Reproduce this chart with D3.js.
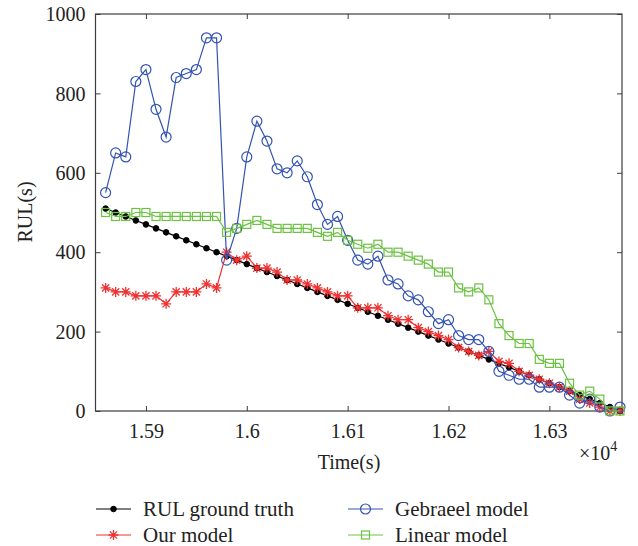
<!DOCTYPE html>
<html>
<head>
<meta charset="utf-8">
<script src="https://cdn.jsdelivr.net/npm/d3@7"></script>
<style>
  body { margin: 0; background: #fff; }
  text { font-family: "Liberation Serif", "Times New Roman", serif; fill: #222; }
</style>
</head>
<body>
<svg id="chart" width="638" height="546"></svg>
<script>
// Sample times (s)
const times = [
  15860, 15870, 15880, 15890, 15900, 15910, 15920, 15930, 15940, 15950,
  15960, 15970, 15980, 15990, 16000, 16010, 16020, 16030, 16040, 16050,
  16060, 16070, 16080, 16090, 16100, 16110, 16120, 16130, 16140, 16150,
  16160, 16170, 16180, 16190, 16200, 16210, 16220, 16230, 16240, 16250,
  16260, 16270, 16280, 16290, 16300, 16310, 16320, 16330, 16340, 16350,
  16360, 16370
];

// Remaining useful life (s) for each series
const groundTruth = [
  510, 500, 490, 480, 470, 460, 450, 440, 430, 420,
  410, 400, 390, 380, 370, 360, 350, 340, 330, 320,
  310, 300, 290, 280, 270, 260, 250, 240, 230, 220,
  210, 200, 190, 180, 170, 160, 150, 140, 130, 120,
  110, 100, 90, 80, 70, 60, 50, 40, 30, 20,
  10, 0
];
const ourModel = [
  310, 300, 300, 290, 290, 290, 270, 300, 300, 300,
  320, 310, 400, 380, 390, 360, 360, 350, 330, 330,
  320, 310, 300, 290, 290, 260, 260, 260, 240, 230,
  230, 210, 200, 190, 180, 160, 150, 140, 150, 125,
  120, 100, 90, 80, 70, 60, 50, 30, 20, 10,
  0, 0
];
const gebraeelModel = [
  550, 650, 640, 830, 860, 760, 690, 840, 850, 860,
  940, 940, 380, 460, 640, 730, 680, 610, 600, 630,
  590, 520, 470, 490, 430, 380, 370, 390, 330, 320,
  290, 280, 250, 220, 230, 190, 180, 180, 150, 100,
  90, 80, 80, 60, 60, 60, 40, 20, 30, 10,
  0, 10
];
const linearModel = [
  500, 490, 490, 500, 500, 490, 490, 490, 490, 490,
  490, 490, 450, 460, 470, 480, 470, 460, 460, 460,
  460, 450, 440, 450, 430, 420, 410, 420, 400, 400,
  390, 380, 370, 350, 350, 310, 300, 310, 280, 220,
  190, 170, 170, 130, 120, 120, 70, 40, 50, 30,
  0, 0
];

const seriesNames = ["RUL ground truth", "Our model", "Gebraeel model", "Linear model"];
const xTicks = [15900, 16000, 16100, 16200, 16300];
const xTickLabels = ["1.59", "1.6", "1.61", "1.62", "1.63"];
const yTicks = [0, 200, 400, 600, 800, 1000];

const svg = d3.select("#chart");
const plotLeft = 95.5, plotRight = 622, plotTop = 14, plotBottom = 411;
const axisColor = "#3c3c3c";
const serif = '"Liberation Serif", "Times New Roman", serif';

const x = d3.scaleLinear().domain([15850, 16372]).range([plotLeft, plotRight]);
const y = d3.scaleLinear().domain([0, 1000]).range([plotBottom, plotTop]);

// Axes with inward ticks
const fmtX = d => xTickLabels[xTicks.indexOf(d)];
const gx = svg.append("g").attr("transform", `translate(0,${plotBottom})`)
  .call(d3.axisBottom(x).tickValues(xTicks).tickFormat(fmtX).tickSizeInner(-5).tickSizeOuter(0));
gx.selectAll("text").attr("y", 27).attr("dy", null);
const gy = svg.append("g").attr("transform", `translate(${plotLeft},0)`)
  .call(d3.axisLeft(y).tickValues(yTicks).tickFormat(d3.format("d")).tickSizeInner(-5).tickSizeOuter(0));
gy.selectAll("text").attr("x", -10).attr("dy", "0.33em");
const gt = svg.append("g").attr("transform", `translate(0,${plotTop})`)
  .call(d3.axisTop(x).tickValues(xTicks).tickFormat("").tickSizeInner(-5).tickSizeOuter(0));
const gr = svg.append("g").attr("transform", `translate(${plotRight},0)`)
  .call(d3.axisRight(y).tickValues(yTicks).tickFormat("").tickSizeInner(-5).tickSizeOuter(0));
[gx, gy, gt, gr].forEach(g => {
  g.select(".domain").remove();
  g.selectAll("line").attr("stroke", axisColor);
  g.attr("font-family", serif).attr("font-size", 20);
  g.selectAll("text").style("font-family", serif).style("font-size", "20px").attr("fill", "#222");
});
svg.append("rect")
  .attr("x", plotLeft).attr("y", plotTop)
  .attr("width", plotRight - plotLeft).attr("height", plotBottom - plotTop)
  .attr("fill", "none").attr("stroke", axisColor).attr("stroke-width", 1.2);

// Axis titles
svg.append("text").attr("x", 349).attr("y", 469).attr("text-anchor", "middle")
  .style("font-size", "20px").text("Time(s)");
svg.append("text").attr("transform", "translate(32,212) rotate(-90)").attr("text-anchor", "middle")
  .style("font-size", "20px").text("RUL(s)");
const exp = svg.append("text").attr("x", 579).attr("y", 460).style("font-size", "20px");
exp.append("tspan").text("×10");
exp.append("tspan").attr("dy", -9).style("font-size", "14px").text("4");

// Marker drawers
const markers = {
  dot: (g, c) => g.append("circle").attr("r", 2.8).attr("fill", c).attr("stroke", c),
  star: (g, c) => g.append("path")
    .attr("d", "M-5,0H5M0,-5V5M-3.6,-3.6L3.6,3.6M-3.6,3.6L3.6,-3.6")
    .attr("fill", "none").attr("stroke", c).attr("stroke-width", 1.3),
  circle: (g, c) => g.append("circle").attr("r", 5).attr("fill", "none").attr("stroke", c).attr("stroke-width", 1.2),
  square: (g, c) => g.append("rect").attr("x", -4).attr("y", -4).attr("width", 8).attr("height", 8)
    .attr("fill", "none").attr("stroke", c).attr("stroke-width", 1.2)
};

const series = [
  { name: seriesNames[0], values: groundTruth, color: "#000000", marker: "dot" },
  { name: seriesNames[1], values: ourModel, color: "#f03232", marker: "star" },
  { name: seriesNames[2], values: gebraeelModel, color: "#3353b3", marker: "circle" },
  { name: seriesNames[3], values: linearModel, color: "#6cc242", marker: "square" }
];

const line = d3.line().x(d => x(d[0])).y(d => y(d[1]));
series.forEach(s => {
  const pts = times.map((t, i) => [t, s.values[i]]);
  const g = svg.append("g");
  g.append("path").attr("d", line(pts)).attr("fill", "none")
    .attr("stroke", s.color).attr("stroke-width", 1.2);
  pts.forEach(p => {
    const m = g.append("g").attr("transform", `translate(${x(p[0])},${y(p[1])})`);
    markers[s.marker](m, s.color);
  });
});

// Legend, two columns
const legendPos = [
  { lx: 96, tx: 143, y: 509 },
  { lx: 96, tx: 143, y: 535 },
  { lx: 348, tx: 395, y: 509 },
  { lx: 348, tx: 395, y: 535 }
];
series.forEach((s, i) => {
  const p = legendPos[i];
  const g = svg.append("g");
  g.append("line").attr("x1", p.lx).attr("x2", p.lx + 35).attr("y1", p.y).attr("y2", p.y)
    .attr("stroke", s.color).attr("stroke-width", 1);
  const m = g.append("g").attr("transform", `translate(${p.lx + 17.5},${p.y})`);
  markers[s.marker](m, s.color);
  g.append("text").attr("x", p.tx).attr("y", p.y).attr("dy", "0.33em")
    .style("font-size", "21px").text(s.name);
});
</script>
</body>
</html>
